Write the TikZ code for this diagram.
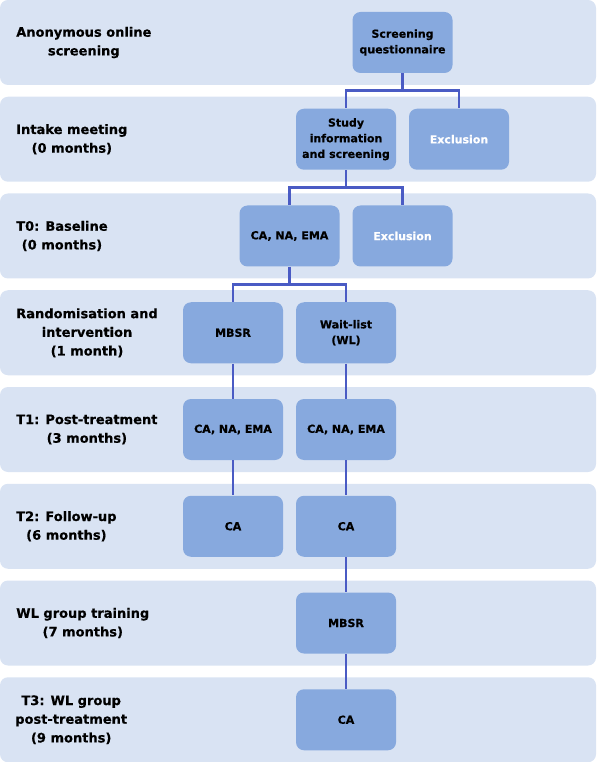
\documentclass[tikz,border=0pt]{standalone}
\usepackage{fontspec}
\setmainfont{DejaVu Sans}[BoldFeatures={FakeBold=0.5}]
\usetikzlibrary{positioning}
\definecolor{bandblue}{HTML}{D9E3F3}
\definecolor{boxblue}{HTML}{87A9DE}
\definecolor{linkblue}{HTML}{4A5BC4}
\tikzset{
    % Background band of one study phase
    band/.style={fill=bandblue, rounded corners=6pt},
    % Phase label on the left
    phase/.style={anchor=west, align=center, inner sep=0pt,
        font=\fontsize{9.75}{14}\selectfont\bfseries},
    % Step boxes
    stepbox/.style={rectangle, rounded corners=6pt, fill=boxblue, align=center,
        minimum width=75pt, minimum height=45.75pt, inner sep=0pt,
        font=\fontsize{8.25}{11.75}\selectfont\bfseries},
    % Excluded participants
    exclbox/.style={stepbox, text=white},
    % Connector lines
    link/.style={draw=linkblue, line width=2.2pt}
}

\begin{document}
\begin{tikzpicture}[x=0.75pt, y=-0.75pt]
    \useasboundingbox (0,0) rectangle (596,762);

    % --- Phase bands ---
    \foreach \i in {0,...,7}
        \fill[band] (0,\i*96.75) rectangle ++(596,85);

    % --- Phase labels ---
    \node[phase] (L1) at (16,42.5)  {Anonymous online\\screening};
    \node[phase] (L2) at (16,139.25) {Intake meeting\\(0 months)};
    \node[phase] (L3) at (16,236)   {T0: Baseline\\(0 months)};
    \node[phase] (L4) at (16,332.75) {Randomisation and\\intervention\\(1 month)};
    \node[phase] (L5) at (16,429.5) {T1: Post-treatment\\(3 months)};
    \node[phase] (L6) at (16,526.25) {T2: Follow-up\\(6 months)};
    \node[phase] (L7) at (16,623)   {WL group training\\(7 months)};
    \node[phase] (L8) at (15,719.75) {T3: WL group\\post-treatment\\(9 months)};

    % --- Steps ---
    \node[stepbox] (screen) at (402.5,42.5) {Screening\\questionnaire};
    \node[stepbox] (intake) at (346,139.25) {Study\\information\\and screening};
    \node[exclbox] (excl1)  at (459,139.25) {Exclusion};
    \node[stepbox] (base)   at (289.5,236) {CA, NA, EMA};
    \node[exclbox] (excl2)  at (402.5,236) {Exclusion};
    \node[stepbox] (mbsr)   at (233,332.75) {MBSR};
    \node[stepbox] (wl)     at (346,332.75) {Wait-list\\(WL)};
    \node[stepbox] (postA)  at (233,429.5) {CA, NA, EMA};
    \node[stepbox] (postB)  at (346,429.5) {CA, NA, EMA};
    \node[stepbox] (follA)  at (233,526.25) {CA};
    \node[stepbox] (follB)  at (346,526.25) {CA};
    \node[stepbox] (wltrain) at (346,623) {MBSR};
    \node[stepbox] (wlpost) at (346,719.75) {CA};

    % --- Splits ---
    \draw[link] (screen.south) -- ++(0,17.5) -| (intake.north);
    \draw[link] (screen.south) -- ++(0,17.5) -| (excl1.north);
    \draw[link] (intake.south) -- ++(0,17.5) -| (base.north);
    \draw[link] (intake.south) -- ++(0,17.5) -| (excl2.north);
    \draw[link] (base.south) -- ++(0,17.5) -| (mbsr.north);
    \draw[link] (base.south) -- ++(0,17.5) -| (wl.north);

    % --- MBSR arm ---
    \draw[link] (mbsr) -- (postA);
    \draw[link] (postA) -- (follA);

    % --- Wait-list arm ---
    \draw[link] (wl) -- (postB);
    \draw[link] (postB) -- (follB);
    \draw[link] (follB) -- (wltrain);
    \draw[link] (wltrain) -- (wlpost);
\end{tikzpicture}
\end{document}
